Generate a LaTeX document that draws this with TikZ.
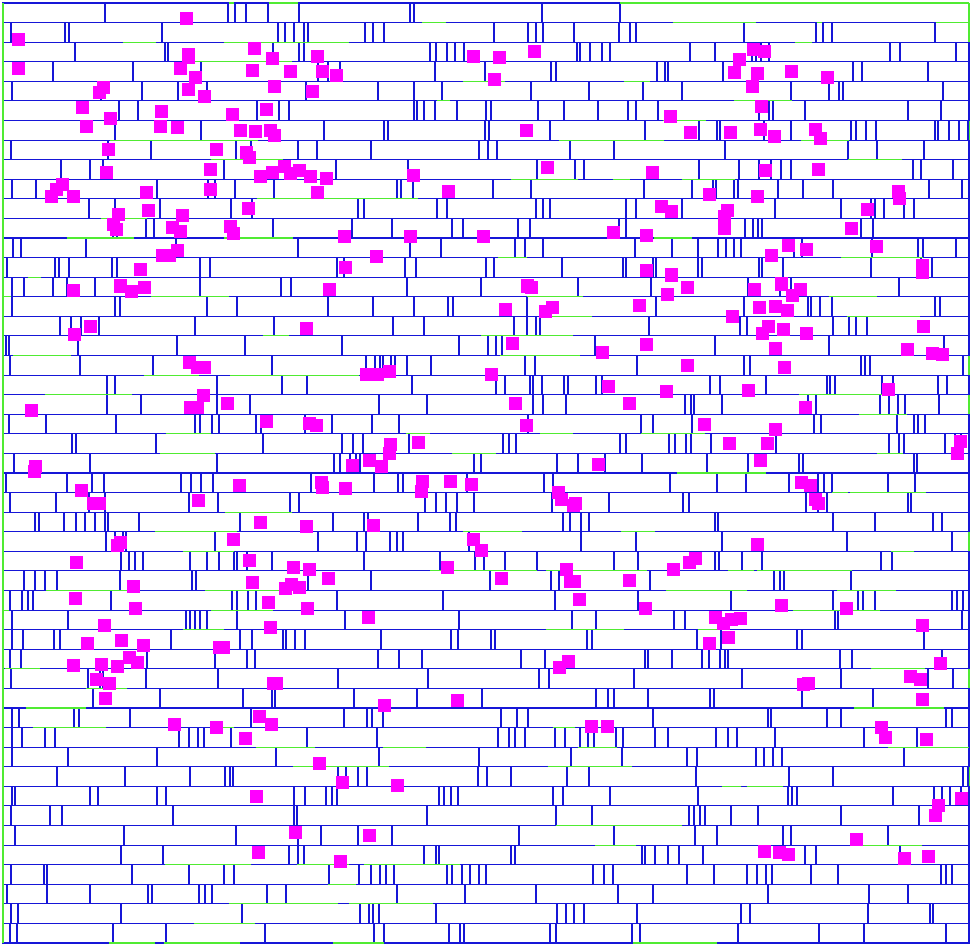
\documentclass[tikz,border=0pt]{standalone}
\usepackage{tikz}
\definecolor{cellblue}{RGB}{22,22,215}
\definecolor{rowgreen}{RGB}{80,235,50}
\definecolor{mag}{RGB}{255,0,255}
\tikzset{
  cell/.style={draw=cellblue,fill=white,line width=1.15pt},
  rowline/.style={draw=rowgreen,line width=1.15pt},
  blk/.style={fill=mag}
}
\begin{document}
\begin{tikzpicture}[x=1pt,y=-1pt]
\useasboundingbox[fill=white] (0,0) rectangle (973,949);
\pgfmathsetseed{4242}
% row boundaries
\foreach \r in {0,...,48}{
  \pgfmathsetmacro\yy{3+\r*19.583}
  \draw[rowline] (3,\yy) -- (969,\yy);
}
\draw[rowline] (969,3) -- (969,943);
% cells
\foreach \r in {0,...,47}{
  \pgfmathsetmacro\ya{3+\r*19.583}
  \pgfmathsetmacro\yb{\ya+19.583}
  \ifnum\r=0 \gdef\xend{620}\gdef\xlim{617}\else\gdef\xend{969}\gdef\xlim{966}\fi
  \pgfmathrandominteger{\st}{0}{9}
  \ifnum\st>6 \pgfmathsetmacro\xs{3+\st}\else\def\xs{3}\fi
  \xdef\cx{\xs}
  \foreach \i in {1,...,130}{
    \ifdim\cx pt<\xlim pt
      \pgfmathrandominteger{\k}{0}{99}
      \ifnum\k<36 \pgfmathrandominteger{\w}{3}{12}\else\pgfmathrandominteger{\w}{20}{130}\fi
      \pgfmathsetmacro\xe{min(\cx+\w,\xend)}
      \draw[cell] (\cx,\ya) rectangle (\xe,\yb);
      \pgfmathrandominteger{\g}{0}{99}
      \ifnum\g<8 \pgfmathrandominteger{\gp}{5}{40}\else\def\gp{0}\fi
      \pgfmathsetmacro\nx{\xe+\gp}
      \xdef\cx{\nx}
    \fi
  }
}
% visible pieces of the row lines
\foreach \r in {1,...,48}{
  \pgfmathsetmacro\yy{3+\r*19.583}
  \foreach \j in {1,...,5}{
    \pgfmathrandominteger{\p}{0}{99}
    \ifnum\p<45
      \pgfmathrandominteger{\sx}{5}{900}
      \pgfmathrandominteger{\sl}{12}{110}
      \pgfmathsetmacro\ex{min(\sx+\sl,969)}
      \draw[rowline] (\sx,\yy) -- (\ex,\yy);
    \fi
  }
}
\draw[rowline] (620,3) -- (969,3);
\draw[rowline] (3,3) -- (3,943);
% blockages
\foreach \x/\y in {
186/19,18/40,254/49,188/55,534/52,753/50,764/52,
272/59,317/57,473/57,499/58,739/60,188/58,
18/69,180/69,252/71,290/72,322/72,336/76,195/78,734/73,757/74,791/72,827/78,
494/80,752/87,
103/88,99/93,188/90,274/87,312/92,204/97,
82/108,161/112,232/115,266/110,761/107,
110/119,86/127,160/127,177/128,240/131,255/132,270/131,274/136,526/131,670/117,690/133,730/133,760/130,774/137,815/130,820/139,
108/150,216/150,246/153,249/158,
106/173,210/170,284/167,260/177,272/173,290/174,299/171,310/177,326/179,413/176,547/168,652/173,765/171,818/170,
62/185,56/190,51/197,73/197,146/193,210/190,317/193,448/192,709/195,757/197,898/192,899/199,
248/209,148/211,118/215,182/216,661/207,671/212,727/211,724/217,867/210,
113/225,116/230,172/228,180/232,230/227,233/234,344/237,410/237,483/237,613/233,646/236,724/229,851/229,
788/246,806/250,876/247,771/256,376/257,177/251,169/256,162/256,
140/270,345/268,646/271,671/275,922/266,922/273,
120/286,131/291,144/287,73/290,329/289,527/286,531/287,687/287,667/294,754/289,781/284,792/295,800/289,
505/309,545/311,552/307,639/305,759/307,775/306,787/310,732/316,
90/326,74/334,306/328,768/326,762/333,783/329,806/333,923/326,
512/343,646/344,775/348,602/352,907/349,932/353,942/354,
189/362,197/367,204/367,366/374,377/374,389/371,491/374,687/365,784/367,
608/386,666/391,748/390,888/389,203/395,
31/410,190/407,197/407,227/403,515/403,629/403,805/407,
266/421,309/423,316/425,526/425,704/424,775/429,
390/444,418/442,729/443,767/443,960/441,957/453,
389/453,369/460,381/466,352/465,760/460,598/464,35/466,34/471,
239/485,321/482,322/487,345/488,422/481,421/491,450/481,471/484,801/482,810/485,81/490,815/499,818/503,
93/503,99/503,198/500,558/492,561/499,573/505,575/503,
260/522,306/526,373/525,
233/539,473/539,481/550,120/542,117/545,757/544,
76/562,249/560,293/567,309/569,447/567,566/569,570/581,673/569,689/562,695/558,
133/586,252/582,328/578,285/588,291/584,299/587,501/578,574/581,629/580,
75/598,268/602,579/599,781/605,846/608,135/608,307/608,645/608,
368/617,715/617,723/623,731/619,740/618,922/625,728/637,
270/627,104/625,
87/643,121/640,143/645,219/647,223/647,709/643,
73/665,101/664,117/666,129/657,137/662,559/667,568/661,940/663,
96/679,109/683,105/698,273/683,276/683,803/684,808/683,910/676,920/679,922/699,
384/705,457/700,
174/724,216/727,259/716,271/724,245/738,591/726,607/726,881/727,885/737,926/739,
319/763,342/782,397/785,
256/796,938/805,961/798,935/815,
295/832,369/835,856/839,
258/852,340/861,764/851,779/852,788/854,904/858,928/856}
{
  \fill[blk] (\x-6.5,\y-6.5) rectangle ++(13,13);
}
\end{tikzpicture}
\end{document}
